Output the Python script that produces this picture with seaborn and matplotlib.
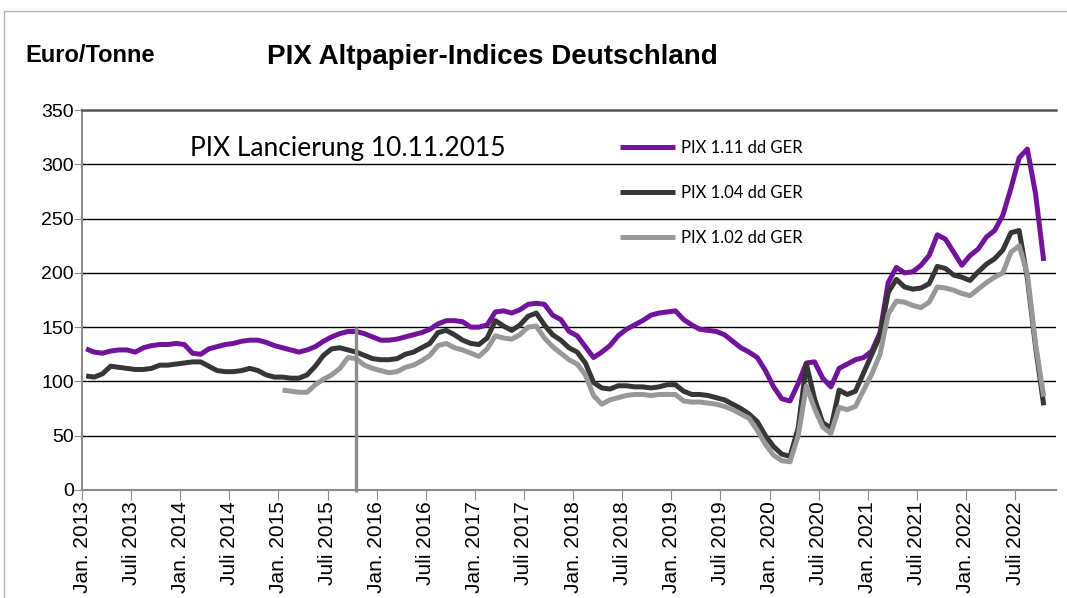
import numpy as np
import pandas as pd
import seaborn as sns
import matplotlib.pyplot as plt
from matplotlib.patches import Rectangle

# Monthly index values, Jan 2013 - Oct 2022 (Euro/Tonne)
pix_111 = [130, 127, 126, 128, 129, 129, 127, 131, 133, 134, 134, 135,
           134, 126, 125, 130, 132, 134, 135, 137, 138, 138, 136, 133,
           131, 129, 127, 129, 132, 137, 141, 144, 146, 146, 144, 141,
           138, 138, 139, 141, 143, 145, 148, 153, 156, 156, 155, 150,
           150, 152, 164, 165, 163, 166, 171, 172, 171, 161, 157, 146,
           142, 132, 122, 127, 133, 142, 148, 152, 156, 161, 163, 164,
           165, 157, 152, 148, 147, 146, 143, 137, 131, 127, 122, 110,
           95, 84, 82, 98, 117, 118, 103, 95, 112, 116, 120, 122,
           128, 145, 191, 205, 200, 201, 207, 216, 235, 231, 219, 207,
           216, 222, 233, 239, 253, 278, 306, 314, 273, 211]

pix_104 = [105, 104, 107, 114, 113, 112, 111, 111, 112, 115, 115, 116,
           117, 118, 118, 114, 110, 109, 109, 110, 112, 110, 106, 104,
           104, 103, 103, 106, 114, 124, 130, 131, 129, 127, 124, 121,
           120, 120, 121, 125, 127, 131, 135, 145, 147, 143, 138, 135,
           134, 140, 156, 151, 147, 152, 160, 163, 152, 143, 138, 131,
           127, 117, 99, 94, 93, 96, 96, 95, 95, 94, 95, 97,
           97, 91, 88, 88, 87, 85, 83, 79, 75, 70, 63, 50,
           40, 33, 31, 57, 116, 84, 62, 57, 92, 88, 91, 108,
           125, 142, 182, 194, 187, 185, 186, 190, 206, 204, 198, 196,
           193, 201, 208, 213, 221, 237, 239, 195, 132, 78]

# PIX 1.02 starts in Jan 2015
pix_102 = [None] * 24 + [
           92, 91, 90, 90, 97, 102, 106, 112, 122, 121, 115, 112,
           110, 108, 109, 113, 115, 119, 124, 133, 135, 131, 129, 126,
           123, 130, 142, 140, 139, 143, 150, 151, 140, 132, 126, 120,
           116, 106, 87, 79, 83, 85, 87, 88, 88, 87, 88, 88,
           88, 82, 81, 81, 80, 79, 77, 74, 70, 66, 55, 42,
           32, 27, 26, 50, 96, 75, 58, 52, 76, 74, 77, 92,
           107, 125, 162, 174, 173, 170, 168, 173, 187, 186, 184, 181,
           179, 185, 191, 196, 200, 219, 225, 199, 135, 86]

series_names = ["PIX 1.11 dd GER", "PIX 1.04 dd GER", "PIX 1.02 dd GER"]
series_colors = ["#72139B", "#363636", "#989898"]

tick_labels = ["Jan. 2013", "Juli 2013", "Jan. 2014", "Juli 2014",
               "Jan. 2015", "Juli 2015", "Jan. 2016", "Juli 2016",
               "Jan. 2017", "Juli 2017", "Jan. 2018", "Juli 2018",
               "Jan. 2019", "Juli 2019", "Jan. 2020", "Juli 2020",
               "Jan. 2021", "Juli 2021", "Jan. 2022", "Juli 2022"]

launch_month = 33  # PIX launch, autumn 2015

# long format table for seaborn
frames = []
for name, vals in zip(series_names, [pix_111, pix_104, pix_102]):
    frames.append(pd.DataFrame({"month": np.arange(len(vals)),
                                "value": pd.to_numeric(pd.Series(vals), errors="coerce"),
                                "series": name}))
df = pd.concat(frames, ignore_index=True).dropna()

plt.rcParams['font.family'] = ['Liberation Sans', 'DejaVu Sans']

W, H = 1067, 598
fig = plt.figure(figsize=(W / 100, H / 100), dpi=100)
ax = fig.add_axes([82 / W, 1 - 490 / H, (1056 - 82) / W, (490 - 110) / H])

sns.lineplot(data=df, x="month", y="value", hue="series", hue_order=series_names,
             palette=series_colors, linewidth=3.6, ax=ax, legend=True,
             solid_capstyle="butt", zorder=3)

# launch marker
ax.vlines(launch_month, -1.5, 150, color="#8c8c8c", linewidth=2.4, zorder=4, clip_on=False)

ax.set_xlim(-0.5, 118.5)
ax.set_ylim(0, 350)
ax.set_yticks(np.arange(0, 351, 50))
ax.set_xticks(np.arange(len(tick_labels)) * 6 - 0.5)
ax.set_xticklabels(tick_labels, rotation=90, fontsize=15)
ax.tick_params(axis="y", labelsize=14, length=6, color="#8c8c8c", pad=0)
ax.tick_params(axis="x", length=7, color="#8c8c8c", pad=1)
ax.set_xlabel("")
ax.set_ylabel("")

for v in range(50, 301, 50):
    ax.axhline(v, color="black", linewidth=1.0, zorder=1)

for s in ["left", "bottom"]:
    ax.spines[s].set_color("#8c8c8c")
    ax.spines[s].set_linewidth(1.5)
ax.spines["top"].set_color("#555555")
ax.spines["top"].set_linewidth(1.8)
ax.spines["right"].set_visible(False)

handles, labels = ax.get_legend_handles_labels()
leg = ax.legend(handles, labels, loc="upper left",
                bbox_to_anchor=(620 / W, 1 - 140 / H), bbox_transform=fig.transFigure,
                frameon=False, borderpad=0, borderaxespad=0, handlelength=3.3,
                handletextpad=0.35, labelspacing=1.75,
                prop={"family": "Lato", "size": 12})

fig.text(25 / W, 1 - 56 / H, "Euro/Tonne", fontsize=17, fontweight="bold",
         ha="left", va="center")
fig.text(492 / W, 1 - 57 / H, "PIX Altpapier-Indices Deutschland", fontsize=20,
         fontweight="bold", ha="center", va="center")
fig.text(190 / W, 1 - 148 / H, "PIX Lancierung 10.11.2015", fontsize=19,
         family="Lato", ha="left", va="center")

fig.add_artist(Rectangle((4 / W, -0.01), 1.0, 1 - 11 / H + 0.01, transform=fig.transFigure,
                         fill=False, edgecolor="#b4b4b4", linewidth=1.0))

fig.savefig("out.png", dpi=100)
